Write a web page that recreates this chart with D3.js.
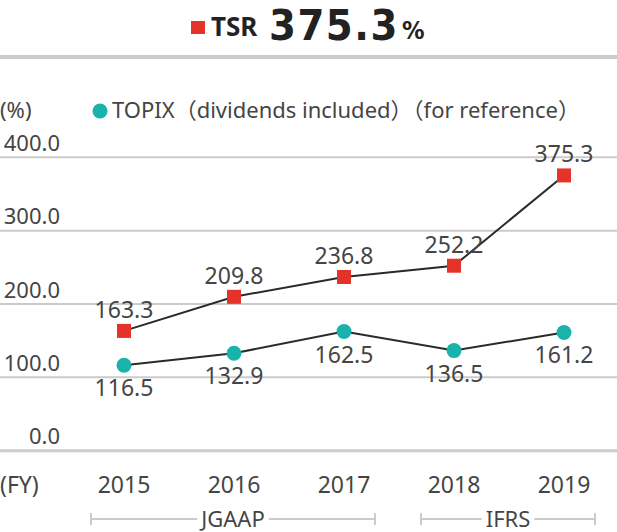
<!DOCTYPE html>
<html>
<head>
<meta charset="utf-8">
<script src="https://cdn.jsdelivr.net/npm/d3@7"></script>
<style>
  html, body { margin: 0; padding: 0; background: #fff; }
  svg { display: block; }
  text { font-family: "Noto Sans", "Noto Sans CJK JP", sans-serif; fill: #454545; }
</style>
</head>
<body>
<svg id="chart"></svg>
<script>
// Chart data
const years = ['2015', '2016', '2017', '2018', '2019'];
const tsrValues = [163.3, 209.8, 236.8, 252.2, 375.3];
const topixValues = [116.5, 132.9, 162.5, 136.5, 161.2];
const yTicks = [0, 100, 200, 300, 400];
const periods = [
  { label: 'JGAAP', from: '2015', to: '2017' },
  { label: 'IFRS', from: '2018', to: '2019' }
];
const headline = { label: 'TSR', value: '375.3', unit: '%' };
const legendLabel = 'TOPIX（dividends included）（for reference）';

// Layout constants
const CONFIG = {
  width: 617,
  height: 532,
  red: '#e5332a',
  teal: '#1ab3ab',
  grid: '#cbcbcb',
  line: '#2a2a2a'
};

const svg = d3.select('#chart')
  .attr('width', CONFIG.width)
  .attr('height', CONFIG.height);

const x = d3.scalePoint().domain(years).range([124, 564]);
const y = d3.scaleLinear().domain([0, 400]).range([450.7, 157.3]);

// Headline: ■ TSR 375.3%
const head = svg.append('g');
head.append('rect')
  .attr('x', 191).attr('y', 21)
  .attr('width', 14).attr('height', 13)
  .attr('fill', CONFIG.red);
head.append('text')
  .attr('x', 211).attr('y', 36)
  .style('font-size', '26px').style('font-weight', 'bold').style('fill', '#222')
  .text(headline.label);
const bigValue = head.append('text')
  .attr('x', 269).attr('y', 40)
  .style('font-family', '"DejaVu Sans Condensed", "Liberation Sans Narrow", sans-serif')
  .style('font-stretch', 'condensed')
  .style('font-size', '43px').style('font-weight', 'bold').style('fill', '#222')
  .style('letter-spacing', '1.5px')
  .text(headline.value);
head.append('text')
  .attr('x', 269 + bigValue.node().getComputedTextLength() + 3).attr('y', 39)
  .style('font-family', '"DejaVu Sans Condensed", sans-serif')
  .style('font-size', '25px').style('font-weight', 'bold').style('fill', '#222')
  .text(headline.unit);

// Separator under headline
svg.append('line')
  .attr('x1', 0).attr('x2', CONFIG.width)
  .attr('y1', 57).attr('y2', 57)
  .attr('stroke', CONFIG.grid).attr('stroke-width', 4);

// Unit + legend
svg.append('text')
  .attr('x', 0).attr('y', 118)
  .style('font-size', '22px')
  .text('(%)');
svg.append('circle')
  .attr('cx', 100).attr('cy', 111).attr('r', 7.5)
  .attr('fill', CONFIG.teal);
svg.append('text')
  .attr('x', 112).attr('y', 118)
  .style('font-size', '22px')
  .text(legendLabel);

// Gridlines and y labels
const grid = svg.append('g').selectAll('g')
  .data(yTicks)
  .enter().append('g')
  .attr('transform', d => `translate(0,${y(d)})`);

grid.append('line')
  .attr('x1', 0).attr('x2', CONFIG.width)
  .attr('stroke', CONFIG.grid)
  .attr('stroke-width', d => d === 0 ? 3 : 2);

grid.append('text')
  .attr('x', 60).attr('y', -6.5)
  .attr('text-anchor', 'end')
  .style('font-size', '22px')
  .text(d => d3.format('.1f')(d));

// X labels
svg.append('text')
  .attr('x', 0).attr('y', 493)
  .style('font-size', '23px')
  .text('(FY)');

svg.append('g').selectAll('text')
  .data(years)
  .enter().append('text')
  .attr('x', d => x(d))
  .attr('y', 493)
  .attr('text-anchor', 'middle')
  .style('font-size', '23px')
  .text(d => d);

// Accounting standard brackets
const bracketY = 519;
periods.forEach(p => {
  const x1 = x(p.from) - 33;
  const x2 = x(p.to) + 31;
  const cx = (x1 + x2) / 2;
  const g = svg.append('g');
  const label = g.append('text')
    .attr('x', cx)
    .attr('y', 527)
    .attr('text-anchor', 'middle')
    .style('font-size', '22px')
    .text(p.label);
  const half = label.node().getComputedTextLength() / 2 + 4;
  [[x1, cx - half], [cx + half, x2]].forEach(([a, b]) => {
    g.append('line')
      .attr('x1', a).attr('x2', b)
      .attr('y1', bracketY).attr('y2', bracketY)
      .attr('stroke', CONFIG.grid).attr('stroke-width', 2);
  });
  [x1, x2].forEach(xx => {
    g.append('line')
      .attr('x1', xx).attr('x2', xx)
      .attr('y1', bracketY - 6).attr('y2', bracketY + 6)
      .attr('stroke', CONFIG.grid).attr('stroke-width', 2);
  });
});

// Series lines
const lineGen = d3.line()
  .x((d, i) => x(years[i]))
  .y(d => y(d));

[tsrValues, topixValues].forEach(values => {
  svg.append('path')
    .datum(values)
    .attr('d', lineGen)
    .attr('fill', 'none')
    .attr('stroke', CONFIG.line)
    .attr('stroke-width', 2);
});

// TSR markers and labels
svg.append('g').selectAll('rect')
  .data(tsrValues)
  .enter().append('rect')
  .attr('x', (d, i) => x(years[i]) - 7)
  .attr('y', d => y(d) - 7)
  .attr('width', 14).attr('height', 14)
  .attr('fill', CONFIG.red);

svg.append('g').selectAll('text')
  .data(tsrValues)
  .enter().append('text')
  .attr('x', (d, i) => x(years[i]))
  .attr('y', d => y(d) - 13)
  .attr('text-anchor', 'middle')
  .style('font-size', '23px')
  .text(d => d.toFixed(1));

// TOPIX markers and labels
svg.append('g').selectAll('circle')
  .data(topixValues)
  .enter().append('circle')
  .attr('cx', (d, i) => x(years[i]))
  .attr('cy', d => y(d))
  .attr('r', 7.5)
  .attr('fill', CONFIG.teal);

svg.append('g').selectAll('text')
  .data(topixValues)
  .enter().append('text')
  .attr('x', (d, i) => x(years[i]))
  .attr('y', d => y(d) + 31)
  .attr('text-anchor', 'middle')
  .style('font-size', '23px')
  .text(d => d.toFixed(1));
</script>
</body>
</html>
